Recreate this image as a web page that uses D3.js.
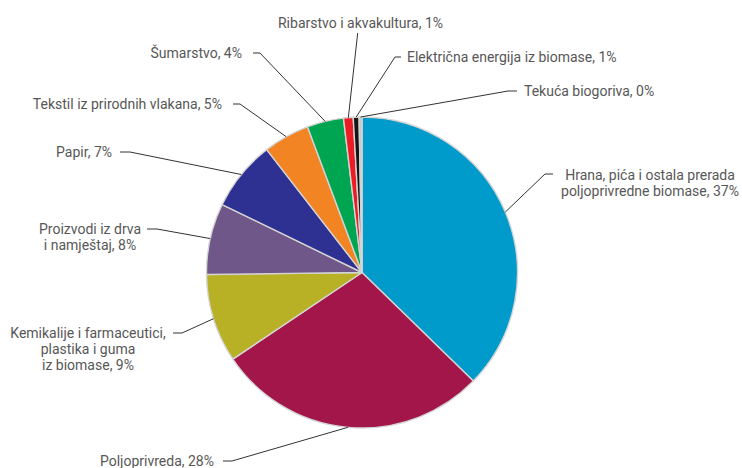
<!DOCTYPE html>
<html>
<head>
<meta charset="utf-8">
<script src="https://cdn.jsdelivr.net/npm/d3@7/dist/d3.min.js"></script>
<style>
  html, body { margin: 0; padding: 0; background: #fff; }
  svg { display: block; }
  text { font-family: Roboto, "Open Sans", sans-serif; font-size: 14px; fill: #575757; }
</style>
</head>
<body>
<svg id="chart" width="742" height="468"></svg>
<script>
// ---- data ----
const categories = [
  "Hrana, pića i ostala prerada poljoprivredne biomase",
  "Poljoprivreda",
  "Kemikalije i farmaceutici, plastika i guma iz biomase",
  "Proizvodi iz drva i namještaj",
  "Papir",
  "Tekstil iz prirodnih vlakana",
  "Šumarstvo",
  "Ribarstvo i akvakultura",
  "Električna energija iz biomase",
  "Tekuća biogoriva"
];
const values = [37.3, 28.3, 9.2, 7.4, 7.3, 4.8, 3.8, 1.0, 0.6, 0.3];
const labelPercents = ["37%", "28%", "9%", "8%", "7%", "5%", "4%", "1%", "1%", "0%"];
const labelLines = [
  ["Hrana, pića i ostala prerada", "poljoprivredne biomase, 37%"],
  ["Poljoprivreda, 28%"],
  ["Kemikalije i farmaceutici,", "plastika i guma", "iz biomase, 9%"],
  ["Proizvodi iz drva", "i namještaj, 8%"],
  ["Papir, 7%"],
  ["Tekstil iz prirodnih vlakana, 5%"],
  ["Šumarstvo, 4%"],
  ["Ribarstvo i akvakultura, 1%"],
  ["Električna energija iz biomase, 1%"],
  ["Tekuća biogoriva, 0%"]
];
const colors = ["#009bcb", "#a3164a", "#b8b025", "#6f5889", "#2e3192", "#f28424", "#00a551", "#ed1c24", "#151515", "#c8c8c8"];

// ---- layout (label placement) ----
const cx = 362, cy = 272.5, R = 155.5;
const labelLayout = [
  { elbow: [545, 174], hend: 553, tx: 650, ty: 175, anchor: "middle" },
  { elbow: [232, 461], hend: 223, tx: 214, ty: 461, anchor: "end" },
  { elbow: [182, 333], hend: 173, tx: 88, ty: 333.5, anchor: "middle" },
  { elbow: [157, 229], hend: 147, tx: 90, ty: 229, anchor: "middle" },
  { elbow: [130, 152], hend: 120, tx: 112, ty: 152, anchor: "end" },
  { elbow: [240, 104], hend: 233, tx: 222, ty: 104, anchor: "end" },
  { elbow: [260, 53], hend: 253, tx: 242, ty: 53, anchor: "end" },
  { elbow: [357.7, 33], hend: 357.7, tx: 360.5, ty: 23, anchor: "middle" },
  { elbow: [395, 57], hend: 401, tx: 407, ty: 57, anchor: "start" },
  { elbow: [508, 91], hend: 517, tx: 524, ty: 91.5, anchor: "start" }
];
const lineHeight = 16;

const svg = d3.select("#chart");
const pie = d3.pie().sort(null).value(d => d)(values);
const arc = d3.arc().innerRadius(0).outerRadius(R);

const g = svg.append("g").attr("transform", `translate(${cx},${cy})`);
g.selectAll("path.slice")
  .data(pie)
  .join("path")
  .attr("class", "slice")
  .attr("d", arc)
  .attr("fill", (d, i) => colors[i])
  .attr("stroke", "#d4d4d4")
  .attr("stroke-width", 1.4)
  .attr("stroke-linejoin", "round");

// leader lines
const lines = svg.append("g");
pie.forEach((d, i) => {
  const a = (d.startAngle + d.endAngle) / 2;
  const px = cx + R * Math.sin(a), py = cy - R * Math.cos(a);
  const L = labelLayout[i];
  const pts = [[px, py], L.elbow, [L.hend, L.elbow[1]]];
  lines.append("path")
    .attr("d", d3.line()(pts))
    .attr("fill", "none")
    .attr("stroke", "#333")
    .attr("stroke-width", 1);
});

// labels
const labels = svg.append("g");
labelLines.forEach((ls, i) => {
  const L = labelLayout[i];
  const t = labels.append("text")
    .attr("text-anchor", L.anchor)
    .attr("x", L.tx);
  ls.forEach((s, j) => {
    t.append("tspan")
      .attr("x", L.tx)
      .attr("y", L.ty + j * lineHeight)
      .attr("dy", "0.35em")
      .text(s);
  });
});
</script>
</body>
</html>
